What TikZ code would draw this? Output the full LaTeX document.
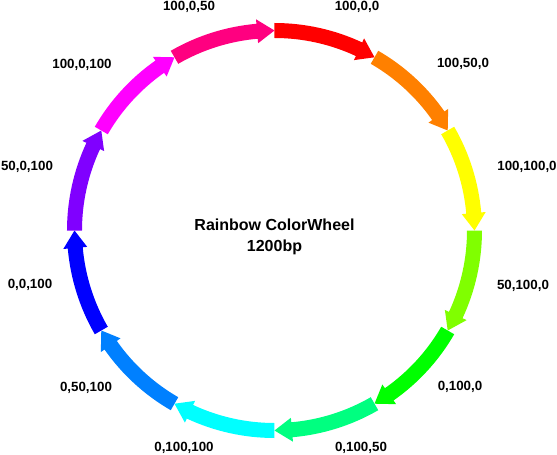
\documentclass[tikz,border=0pt]{standalone}
\usepackage{fontspec}
\setmainfont{Liberation Sans}
\usepackage{tikz}
\usetikzlibrary{positioning}
\definecolor{wred}{RGB}{255,0,0}
\definecolor{worange}{RGB}{255,128,0}
\definecolor{wyellow}{RGB}{255,255,0}
\definecolor{wlime}{RGB}{128,255,0}
\definecolor{wgreen}{RGB}{0,255,0}
\definecolor{wspring}{RGB}{0,255,128}
\definecolor{wcyan}{RGB}{0,255,255}
\definecolor{wazure}{RGB}{0,128,255}
\definecolor{wblue}{RGB}{0,0,255}
\definecolor{wviolet}{RGB}{128,0,255}
\definecolor{wmagenta}{RGB}{255,0,255}
\definecolor{wrose}{RGB}{255,0,128}
\tikzset{
  seglabel/.style={font=\bfseries\fontsize{10}{12}\selectfont,inner sep=0pt},
  titlelabel/.style={font=\bfseries\fontsize{12}{15.75}\selectfont,align=center,inner sep=0pt}
}

\begin{document}
\begin{tikzpicture}[x=0.75pt,y=0.75pt]
      \useasboundingbox (-274.5,-223.5) rectangle (282.5,230.5);
      % segments, clockwise from the top
      \foreach \col [count=\i from 0] in {wred,worange,wyellow,wlime,wgreen,wspring,wcyan,wazure,wblue,wviolet,wmagenta,wrose} {
        \pgfmathsetmacro\s{90-30*\i}
        \pgfmathsetmacro\e{\s-30}
        \pgfmathsetmacro\b{\e+5}
        \fill[\col] (\s:207.5) arc[start angle=\s,end angle=\b,radius=207.5] -- (\b:212) -- (\e:200) -- (\b:188)
          -- (\b:192.5) arc[start angle=\b,end angle=\s,radius=192.5] -- cycle;
      }
      \node[titlelabel] (title) at (0,-6) {Rainbow ColorWheel\\1200bp};
      \node[seglabel] (lred) at (82.5,223.5) {100,0,0};
      \node[seglabel] (lorange) at (188.5,166.5) {100,50,0};
      \node[seglabel] (lyellow) at (252.5,63.5) {100,100,0};
      \node[seglabel] (llime) at (248.5,-55.5) {50,100,0};
      \node[seglabel] (lgreen) at (185.5,-156.5) {0,100,0};
      \node[seglabel] (lspring) at (86.5,-217.5) {0,100,50};
      \node[seglabel] (lcyan) at (-90.5,-217.5) {0,100,100};
      \node[seglabel] (lazure) at (-188.5,-157.5) {0,50,100};
      \node[seglabel] (lblue) at (-244.5,-54.5) {0,0,100};
      \node[seglabel] (lviolet) at (-247.5,63.5) {50,0,100};
      \node[seglabel] (lmagenta) at (-192.5,165.5) {100,0,100};
      \node[seglabel] (lrose) at (-85.5,223.5) {100,0,50};
    \end{tikzpicture}
\end{document}
